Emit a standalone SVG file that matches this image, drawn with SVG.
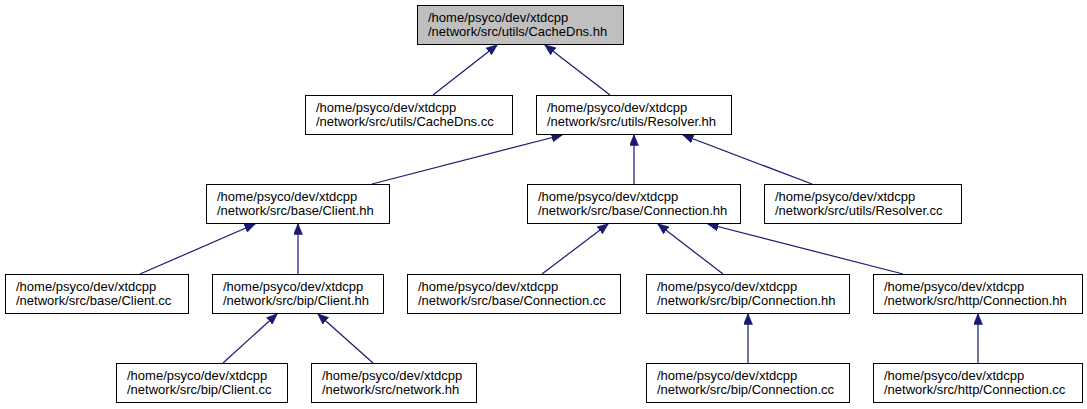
<svg xmlns="http://www.w3.org/2000/svg" width="1087" height="409" viewBox="0 0 1087 409">
<style>
.n rect{fill:#fff;stroke:#000;stroke-width:1}
.n.root rect{fill:#bfbfbf}
.n text{font-family:"Liberation Sans",Arial,sans-serif;font-size:13px;fill:#000}
#edges line{stroke:#191970;stroke-width:1.2;marker-end:url(#ah)}
</style>
<defs>
<marker id="ah" markerWidth="11" markerHeight="9" refX="10.5" refY="4.5" orient="auto" markerUnits="userSpaceOnUse">
<polygon points="0,0 11,4.5 0,9" fill="#191970" stroke="#191970" stroke-width="0.5"/>
</marker>
</defs>
<rect width="1087" height="409" fill="#fff"/>
<g id="edges">
<line x1="433" y1="95" x2="497" y2="45"/>
<line x1="610" y1="95" x2="545" y2="45"/>
<line x1="372" y1="184" x2="562" y2="135"/>
<line x1="634" y1="184" x2="634" y2="135"/>
<line x1="812" y1="184" x2="683" y2="135"/>
<line x1="140" y1="274" x2="255" y2="224"/>
<line x1="298" y1="274" x2="298" y2="224"/>
<line x1="542" y1="274" x2="608" y2="224"/>
<line x1="723" y1="274" x2="658" y2="224"/>
<line x1="903" y1="274" x2="708" y2="224"/>
<line x1="223" y1="363" x2="277" y2="314"/>
<line x1="373" y1="363" x2="318" y2="314"/>
<line x1="748" y1="363" x2="748" y2="314"/>
<line x1="978" y1="363" x2="978" y2="314"/>
</g>
<g id="n_root" class="n root"><rect x="417.5" y="5.5" width="206" height="39"/><text x="428" y="22">/home/psyco/dev/xtdcpp</text><text x="428" y="36">/network/src/utils/CacheDns.hh</text></g>
<g id="n_cachedns_cc" class="n"><rect x="305.5" y="95.5" width="207" height="39"/><text x="316" y="112">/home/psyco/dev/xtdcpp</text><text x="316" y="126">/network/src/utils/CacheDns.cc</text></g>
<g id="n_resolver_hh" class="n"><rect x="536.5" y="95.5" width="195" height="39"/><text x="547" y="112">/home/psyco/dev/xtdcpp</text><text x="547" y="126">/network/src/utils/Resolver.hh</text></g>
<g id="n_base_client_hh" class="n"><rect x="206.5" y="184.5" width="183" height="39"/><text x="217" y="201">/home/psyco/dev/xtdcpp</text><text x="217" y="215">/network/src/base/Client.hh</text></g>
<g id="n_base_connection_hh" class="n"><rect x="527.5" y="184.5" width="213" height="39"/><text x="538" y="201">/home/psyco/dev/xtdcpp</text><text x="538" y="215">/network/src/base/Connection.hh</text></g>
<g id="n_resolver_cc" class="n"><rect x="764.5" y="184.5" width="197" height="39"/><text x="775" y="201">/home/psyco/dev/xtdcpp</text><text x="775" y="215">/network/src/utils/Resolver.cc</text></g>
<g id="n_base_client_cc" class="n"><rect x="5.5" y="274.5" width="183" height="39"/><text x="16" y="291">/home/psyco/dev/xtdcpp</text><text x="16" y="305">/network/src/base/Client.cc</text></g>
<g id="n_bip_client_hh" class="n"><rect x="212.5" y="274.5" width="171" height="39"/><text x="223" y="291">/home/psyco/dev/xtdcpp</text><text x="223" y="305">/network/src/bip/Client.hh</text></g>
<g id="n_base_connection_cc" class="n"><rect x="407.5" y="274.5" width="213" height="39"/><text x="418" y="291">/home/psyco/dev/xtdcpp</text><text x="418" y="305">/network/src/base/Connection.cc</text></g>
<g id="n_bip_connection_hh" class="n"><rect x="646.5" y="274.5" width="203" height="39"/><text x="657" y="291">/home/psyco/dev/xtdcpp</text><text x="657" y="305">/network/src/bip/Connection.hh</text></g>
<g id="n_http_connection_hh" class="n"><rect x="873.5" y="274.5" width="209" height="39"/><text x="884" y="291">/home/psyco/dev/xtdcpp</text><text x="884" y="305">/network/src/http/Connection.hh</text></g>
<g id="n_bip_client_cc" class="n"><rect x="116.5" y="363.5" width="171" height="39"/><text x="127" y="380">/home/psyco/dev/xtdcpp</text><text x="127" y="394">/network/src/bip/Client.cc</text></g>
<g id="n_network_hh" class="n"><rect x="311.5" y="363.5" width="165" height="39"/><text x="322" y="380">/home/psyco/dev/xtdcpp</text><text x="322" y="394">/network/src/network.hh</text></g>
<g id="n_bip_connection_cc" class="n"><rect x="646.5" y="363.5" width="203" height="39"/><text x="657" y="380">/home/psyco/dev/xtdcpp</text><text x="657" y="394">/network/src/bip/Connection.cc</text></g>
<g id="n_http_connection_cc" class="n"><rect x="873.5" y="363.5" width="209" height="39"/><text x="884" y="380">/home/psyco/dev/xtdcpp</text><text x="884" y="394">/network/src/http/Connection.cc</text></g>
</svg>
